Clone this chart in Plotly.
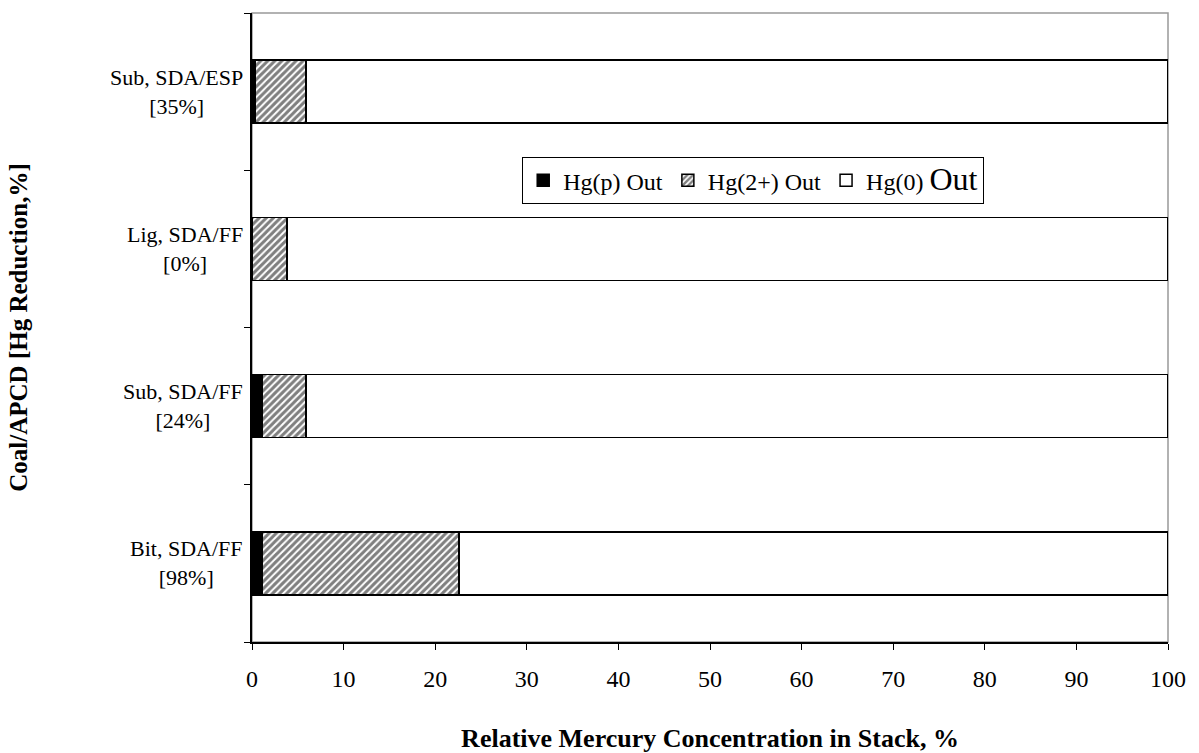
import plotly.graph_objects as go

# Coal / air-pollution-control configurations (bottom to top)
categories = ["Bit, SDA/FF", "Sub, SDA/FF", "Lig, SDA/FF", "Sub, SDA/ESP"]
hg_reduction = ["[98%]", "[24%]", "[0%]", "[35%]"]

# Relative mercury species in the stack, %
hg_p = [1.1, 1.1, 0.0, 0.3]
hg_2 = [21.5, 4.8, 3.8, 5.6]
hg_0 = [77.4, 94.1, 96.2, 94.1]

FONT = "Liberation Serif, Times New Roman, serif"
line = dict(color="black", width=1.5)

fig = go.Figure()
fig.add_trace(go.Bar(
    y=categories, x=hg_p, orientation="h", name="Hg(p) Out",
    marker=dict(color="black", line=line),
))
fig.add_trace(go.Bar(
    y=categories, x=hg_2, orientation="h", name="Hg(2+) Out",
    marker=dict(color="white", line=line,
                pattern=dict(shape="/", fgcolor="black", bgcolor="white",
                             size=5, solidity=0.6)),
))
fig.add_trace(go.Bar(
    y=categories, x=hg_0, orientation="h",
    name="Hg(0) <span style='font-size:32px'>Out</span>",
    marker=dict(color="white", line=line),
))

# Two-line category labels, centred under each other
for cat, red in zip(categories, hg_reduction):
    fig.add_annotation(
        x=-0.008, xref="paper", y=cat, yref="y",
        text=f"{cat}<br>{red}", showarrow=False,
        xanchor="right", yanchor="middle", align="center",
        font=dict(family=FONT, size=22, color="black"),
    )

# Plot-area frame (grey top and right edges)
fig.add_shape(type="rect", xref="paper", yref="paper", x0=0, y0=0, x1=1, y1=1,
              line=dict(color="#999999", width=1.5), layer="below")

fig.update_layout(
    barmode="stack",
    bargap=0.6,
    width=1199, height=753,
    margin=dict(l=252, r=31, t=13, b=111, autoexpand=False),
    paper_bgcolor="white", plot_bgcolor="white",
    font=dict(family=FONT, color="black"),
    showlegend=True,
    legend=dict(
        orientation="h", x=0.295, y=0.771, xanchor="left", yanchor="top",
        bordercolor="black", borderwidth=1, bgcolor="white",
        font=dict(family=FONT, size=24, color="black"),
        traceorder="normal", itemwidth=30,
    ),
    xaxis=dict(
        range=[0, 100], dtick=10, tick0=0, automargin=False,
        showgrid=False, zeroline=False,
        showline=True, linecolor="black", linewidth=1.5,
        ticks="outside", ticklen=6, tickcolor="black", tickwidth=1,
        ticklabelstandoff=8,
        tickfont=dict(family=FONT, size=24, color="black"),
        title=dict(text="<b>Relative Mercury Concentration in Stack, %</b>",
                   font=dict(family=FONT, size=26, color="black"), standoff=40),
    ),
    yaxis=dict(
        type="category", categoryorder="array", categoryarray=categories,
        range=[-0.5, 3.5], automargin=False,
        showgrid=False, zeroline=False,
        showline=True, linecolor="black", linewidth=1.5,
        ticks="outside", ticklen=6, tickcolor="black", tickwidth=1,
        tickson="boundaries", showticklabels=False,
        title=dict(text="<b>Coal/APCD [Hg Reduction,%]</b>",
                   font=dict(family=FONT, size=25, color="black"), standoff=216),
    ),
)

fig.write_html("out.html")
